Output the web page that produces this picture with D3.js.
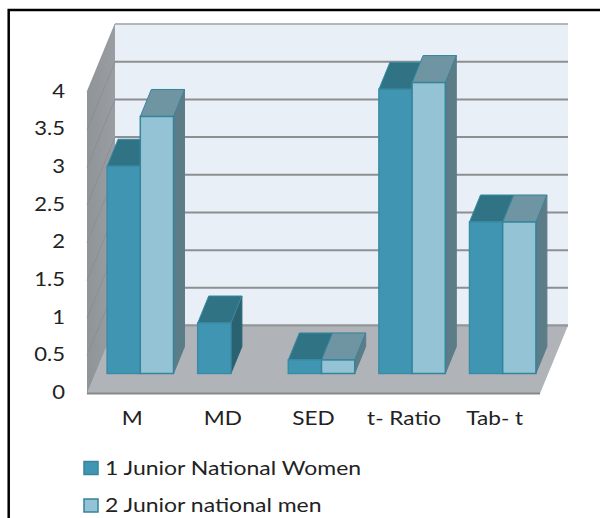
<!DOCTYPE html>
<html lang="en">

<head>
  <meta charset="UTF-8">
  <title>Junior National Women and Men</title>
  <style>
    * {
      padding: 0;
      margin: 0;
    }

    html,
    body {
      width: 600px;
      height: 518px;
      background: #fff;
      overflow: hidden;
    }

    svg {
      display: block;
    }

    text {
      font-family: Lato, sans-serif;
      fill: #222;
    }
  </style>
</head>

<body>
  <svg id="svg"></svg>
  <script src="https://cdnjs.cloudflare.com/ajax/libs/d3/7.8.5/d3.min.js"></script>
  <script>
    const categories = ['M', 'MD', 'SED', 't- Ratio', 'Tab- t']
    const seriesNames = ['1 Junior National Women', '2 Junior national men']
    const women = [2.75, 0.67, 0.18, 3.77, 2.01]
    const men = [3.41, null, 0.18, 3.86, 2.01]
    const tickValues = [0, 0.5, 1, 1.5, 2, 2.5, 3, 3.5, 4]

    const dimension = { width: 600, height: 518 }

    // back wall is the reference plane, everything else is shifted from it
    const wall = { left: 115, right: 568, top: 24, bottom: 325.5 }
    const floorShift = { x: -28, y: 68 }
    const barShift = { x: -20, y: 48 }
    const barDepth = { x: 11, y: -27 }

    const colors = [
      { front: '#4096b2', top: '#2f7385', side: '#2a6272', stroke: '#3a8ba6' },
      { front: '#93c3d5', top: '#6f95a3', side: '#5c7c88', stroke: '#35849c' }
    ]

    const svg = d3.select('#svg')
      .attr('width', dimension.width)
      .attr('height', dimension.height)

    const y = d3.scaleLinear().domain([0, 4]).range([wall.bottom, wall.top])

    const xLabels = d3.scaleBand()
      .domain(categories)
      .range([wall.left + floorShift.x, wall.right + floorShift.x])

    const xBars = d3.scaleBand()
      .domain(categories)
      .range([wall.left + barShift.x, wall.right + barShift.x])
      .paddingInner(0.267)
      .paddingOuter(0.1335)

    const xSeries = d3.scaleBand().domain([0, 1]).range([0, xBars.bandwidth()])

    const poly = pts => d3.line()(pts) + 'Z'

    // page frame, only left and top are in the picture
    svg.append('path')
      .attr('d', d3.line()([[8.7, 518], [8.7, 10], [600, 10]]))
      .attr('fill', 'none')
      .attr('stroke', '#000')
      .attr('stroke-width', 2.5)

    // back wall
    svg.append('rect')
      .attr('x', wall.left)
      .attr('y', wall.top)
      .attr('width', wall.right - wall.left)
      .attr('height', wall.bottom - wall.top)
      .attr('fill', '#e8eff6')

    // side wall
    const sideGrad = svg.append('defs').append('linearGradient')
      .attr('id', 'side-grad')
      .attr('x1', 0).attr('x2', 1).attr('y1', 0).attr('y2', 0)
    sideGrad.append('stop').attr('offset', 0).attr('stop-color', '#8f9499')
    sideGrad.append('stop').attr('offset', 1).attr('stop-color', '#9a9ea2')

    svg.append('path')
      .attr('d', poly([
        [wall.left, wall.top],
        [wall.left, wall.bottom],
        [wall.left + floorShift.x, wall.bottom + floorShift.y],
        [wall.left + floorShift.x, wall.top + floorShift.y]
      ]))
      .attr('fill', 'url(#side-grad)')

    // gridlines
    svg.append('g')
      .selectAll('line')
      .data(tickValues)
      .join('line')
      .attr('x1', wall.left)
      .attr('x2', wall.right)
      .attr('y1', d => y(d))
      .attr('y2', d => y(d))
      .attr('stroke', d => d === 4 ? '#b4b6b8' : '#8e8f90')
      .attr('stroke-width', 2)

    svg.append('g')
      .selectAll('line')
      .data(tickValues)
      .join('line')
      .attr('x1', wall.left)
      .attr('x2', wall.left + floorShift.x)
      .attr('y1', d => y(d))
      .attr('y2', d => y(d) + floorShift.y)
      .attr('stroke', '#878b8f')
      .attr('stroke-width', 0.7)

    // floor
    svg.append('path')
      .attr('d', poly([
        [wall.left, wall.bottom],
        [wall.right, wall.bottom],
        [wall.right + floorShift.x, wall.bottom + floorShift.y],
        [wall.left + floorShift.x, wall.bottom + floorShift.y]
      ]))
      .attr('fill', '#b0b4b8')

    svg.append('path')
      .attr('d', d3.line()([
        [wall.left + floorShift.x, wall.bottom + floorShift.y],
        [wall.right + floorShift.x, wall.bottom + floorShift.y]
      ]))
      .attr('stroke', '#85898c')
      .attr('stroke-width', 2)

    svg.append('path')
      .attr('d', d3.line()([[wall.left, wall.bottom], [wall.right, wall.bottom]]))
      .attr('stroke', '#949698')
      .attr('stroke-width', 2)

    // bars, women first so the men's side and top sit on top
    const drawBars = (values, index) => {
      const g = svg.append('g').attr('class', 'series-' + index)
      const c = colors[index]
      categories.forEach((cat, i) => {
        if (values[i] == null) return
        const x0 = xBars(cat) + xSeries(index)
        const x1 = x0 + xSeries.bandwidth()
        const y0 = y(0) + barShift.y
        const y1 = y(values[i]) + barShift.y
        const dx = barDepth.x
        const dy = barDepth.y

        g.append('path')
          .attr('d', poly([[x1, y1], [x1 + dx, y1 + dy], [x1 + dx, y0 + dy], [x1, y0]]))
          .attr('fill', c.side)
          .attr('stroke', c.side)
        g.append('path')
          .attr('d', poly([[x0, y1], [x0 + dx, y1 + dy], [x1 + dx, y1 + dy], [x1, y1]]))
          .attr('fill', c.top)
          .attr('stroke', c.stroke)
        g.append('rect')
          .attr('x', x0)
          .attr('y', y1)
          .attr('width', x1 - x0)
          .attr('height', y0 - y1)
          .attr('fill', c.front)
          .attr('stroke', c.stroke)
          .attr('stroke-width', 1.5)
      })
    }
    drawBars(women, 0)
    drawBars(men, 1)

    // axes, the picture's text is stretched sideways so scale x only
    const yAxis = d3.axisLeft(y)
      .tickValues(tickValues)
      .tickSize(0)
      .tickPadding(0)
      .tickFormat(d => String(d))

    const yG = svg.append('g')
      .attr('transform', `translate(65, ${floorShift.y - 1})`)
      .call(yAxis)
    yG.select('.domain').remove()
    yG.selectAll('text')
      .attr('x', 0)
      .attr('transform', 'scale(1.16, 1)')
      .style('font-size', '19px')
      .style('font-family', 'Lato, sans-serif')

    const xAxis = d3.axisBottom(xLabels).tickSize(0).tickPadding(0)
    const xG = svg.append('g')
      .attr('transform', 'translate(0, 412)')
      .call(xAxis)
    xG.select('.domain').remove()
    xG.selectAll('text')
      .attr('transform', 'scale(1.19, 1)')
      .style('font-size', '19px')
      .style('font-family', 'Lato, sans-serif')

    // legend
    const legend = svg.append('g')
      .selectAll('g')
      .data(seriesNames)
      .join('g')
      .attr('transform', (d, i) => `translate(84, ${468 + i * 37.5})`)

    legend.append('rect')
      .attr('y', -6.5)
      .attr('width', 14)
      .attr('height', 13)
      .attr('fill', (d, i) => colors[i].front)
      .attr('stroke', '#35849c')
      .attr('stroke-width', 1.5)

    legend.append('text')
      .attr('transform', 'translate(21, 0) scale(1.21, 1)')
      .attr('dy', '0.36em')
      .style('font-size', '19px')
      .text(d => d)
  </script>
</body>

</html>
